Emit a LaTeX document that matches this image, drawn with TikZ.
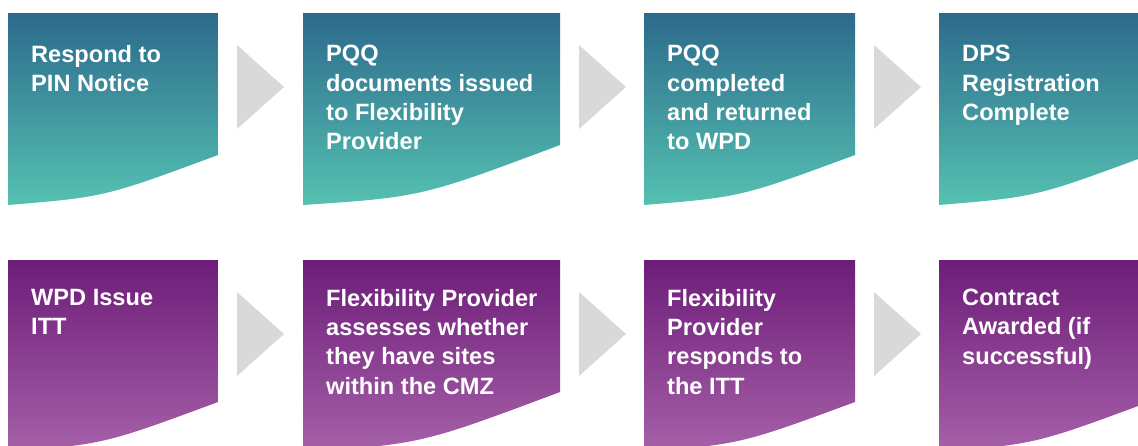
\documentclass[tikz,border=0pt]{standalone}
\usepackage{fontspec}
\setmainfont{Liberation Sans}
\definecolor{tealtop}{HTML}{2C6A8C}
\definecolor{tealbot}{HTML}{55C1B1}
\definecolor{purtop}{HTML}{6D1D79}
\definecolor{purbot}{HTML}{A660A8}
\definecolor{arrowgray}{HTML}{D9D9D9}
% #1 left x, #2 width, #3 top y, #4 right-edge height, #5 top colour, #6 bottom colour
\newcommand\stepcard[6]{%
  \shade[top color=#5, bottom color=#6]
    (#1,#3) -- (#1+#2,#3) -- (#1+#2,#3+#4)
    .. controls (#1+0.46*#2,#3+184) .. (#1,#3+192) -- cycle;}
% #1 left x, #2 top y
\newcommand\stepchevron[2]{%
  \fill[arrowgray] (#1,#2) -- (#1+47,#2+42) -- (#1,#2+84) -- cycle;}
\begin{document}
\begin{tikzpicture}[x=1pt,y=-1pt,
  cardtext/.style={anchor=north west, inner sep=0pt, text=white, align=left,
    font=\bfseries\fontsize{23.6}{29.3}\selectfont}]
\useasboundingbox (0,0) rectangle (1138,445);
\clip (0,0) rectangle (1138,445);
% top row
\stepcard{8}{210}{13}{142}{tealtop}{tealbot}
\stepcard{303}{257}{13}{132}{tealtop}{tealbot}
\stepcard{644}{211}{13}{142}{tealtop}{tealbot}
\stepcard{939}{210}{13}{142}{tealtop}{tealbot}
\stepchevron{237}{45}
\stepchevron{579}{45}
\stepchevron{874}{45}
% bottom row
\stepcard{8}{210}{260}{142}{purtop}{purbot}
\stepcard{303}{257}{260}{132}{purtop}{purbot}
\stepcard{644}{211}{260}{142}{purtop}{purbot}
\stepcard{939}{210}{260}{142}{purtop}{purbot}
\stepchevron{237}{292}
\stepchevron{579}{292}
\stepchevron{874}{292}
% texts
\node[cardtext] (t1) at (31,45.3) {Respond to\\PIN Notice};
\node[cardtext] (t2) at (326,45.3) {PQQ\\documents issued\\to Flexibility\\Provider};
\node[cardtext] (t3) at (667,45.3) {PQQ\\completed\\and returned\\to WPD};
\node[cardtext] (t4) at (962,45.3) {DPS\\Registration\\Complete};
\node[cardtext] (t5) at (31,288.8) {WPD Issue\\ITT};
\node[cardtext] (t6) at (326,288.8) {Flexibility Provider\\assesses whether\\they have sites\\within the CMZ};
\node[cardtext] (t7) at (667,288.8) {Flexibility\\Provider\\responds to\\the ITT};
\node[cardtext] (t8) at (962,288.8) {Contract\\Awarded (if\\successful)};
\end{tikzpicture}
\end{document}
